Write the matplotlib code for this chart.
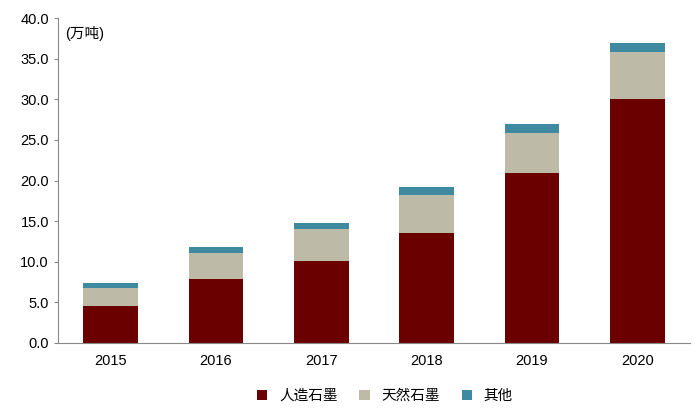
import matplotlib
matplotlib.use("Agg")
import matplotlib.pyplot as plt
import numpy as np

plt.rcParams['font.family'] = ['Liberation Sans', 'Noto Sans CJK SC', 'DejaVu Sans']

years = ["2015", "2016", "2017", "2018", "2019", "2020"]
synthetic = [4.55, 7.9, 10.1, 13.5, 20.9, 30.0]
natural = [2.25, 3.2, 3.9, 4.7, 4.9, 5.8]
other = [0.6, 0.7, 0.8, 1.0, 1.2, 1.1]

fig = plt.figure(figsize=(7, 4.16), dpi=100)
ax = fig.add_axes([58/700, 1-343/416, 632/700, 325/416])
x = np.arange(len(years))
w = 0.52
ax.bar(x, synthetic, w, color='#6b0000', label='人造石墨')
ax.bar(x, natural, w, bottom=synthetic, color='#bdbaa7', label='天然石墨')
b2 = np.array(synthetic) + np.array(natural)
ax.bar(x, other, w, bottom=b2, color='#3f8aa0', label='其他')

ax.set_xlim(-0.5, len(years) - 0.5)
ax.set_ylim(0, 40)
ax.set_yticks(np.arange(0, 40.1, 5))
ax.set_yticklabels([f"{v:.1f}" for v in np.arange(0, 40.1, 5)], fontsize=10.5)
ax.set_xticks(x)
ax.set_xticklabels(years, fontsize=10.5)
for s in ['top', 'right']:
    ax.spines[s].set_visible(False)
ax.spines['left'].set_color('#888888')
ax.spines['bottom'].set_color('#888888')
ax.tick_params(axis='x', length=0, pad=8)
ax.tick_params(axis='y', length=3, color='#888888')
ax.text(-0.43, 39.0, '(万吨)', fontsize=10.5, va='top')
fig.legend(loc='lower center', bbox_to_anchor=(0.55, 0.0), ncol=3, frameon=False,
           fontsize=10.5, handlelength=0.7, handleheight=0.7, columnspacing=1.5)
fig.savefig('out.png', dpi=100)
